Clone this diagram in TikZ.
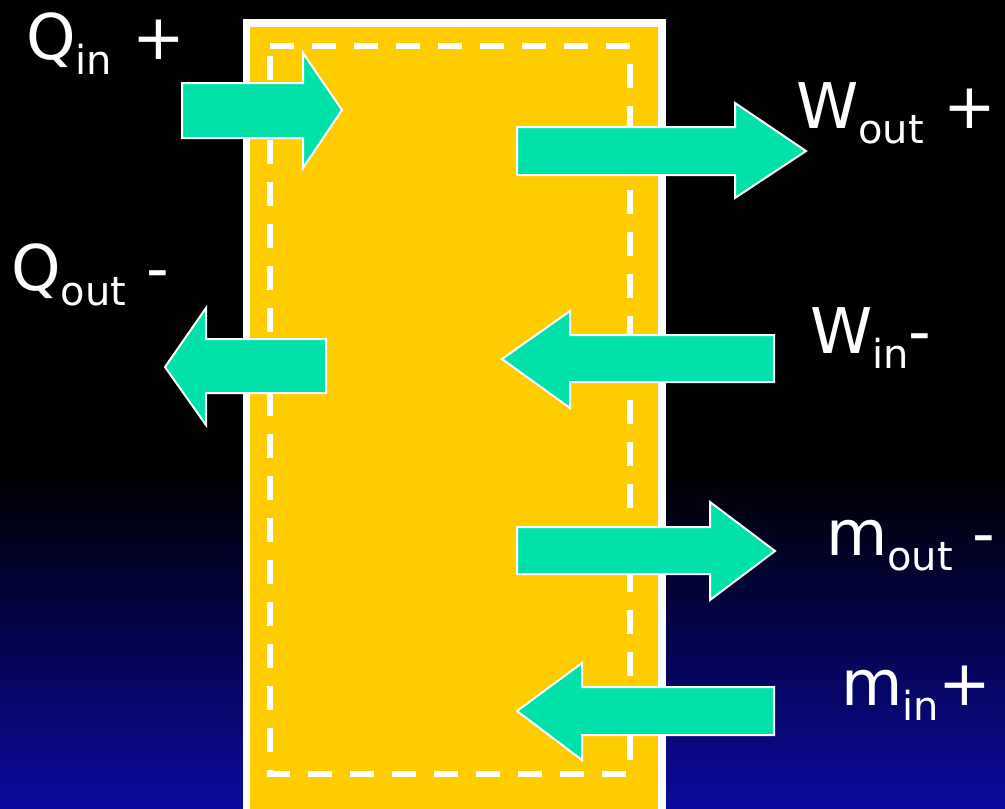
\documentclass[tikz,border=0pt]{standalone}
\usepackage{fontspec}
\setmainfont{DejaVu Sans}
\definecolor{boxyellow}{RGB}{255,204,0}
\definecolor{arrowgreen}{RGB}{0,226,170}
\definecolor{deepblue}{RGB}{10,10,158}
\newcommand{\flowlbl}[3]{\fontsize{63}{63}\selectfont #1\raisebox{-15pt}{\fontsize{40}{40}\selectfont #2}#3}
\tikzset{
  flowarrow/.style={fill=arrowgreen, draw=white, line width=2pt, line join=miter},
  flowtext/.style={text=white, anchor=base west, inner sep=0pt, outer sep=0pt},
}
\begin{document}
\begin{tikzpicture}[x=1pt,y=-1pt]
\useasboundingbox (0,0) rectangle (1005,809);
% background
\fill[black] (0,0) rectangle (1005,470);
\shade[top color=black, bottom color=deepblue] (0,469) rectangle (1005,809);
% control volume
\draw[white, line width=7.5pt, fill=boxyellow] (246.5,23) rectangle (662,820);
\draw[white, line width=6pt, dash pattern=on 24pt off 18pt] (270,46) -- (630,46) -- (630,774) -- (270,774) -- cycle;
% arrows
% Q_in (right)
\draw[flowarrow] (182,83) -- (303,83) -- (303,53) -- (342,110) -- (303,168) -- (303,138) -- (182,138) -- cycle;
% W_out (right)
\draw[flowarrow] (517,127) -- (735,127) -- (735,103) -- (806,151) -- (735,198) -- (735,175) -- (517,175) -- cycle;
% Q_out (left)
\draw[flowarrow] (326,339) -- (206,339) -- (206,308) -- (165,367) -- (206,425) -- (206,393) -- (326,393) -- cycle;
% W_in (left)
\draw[flowarrow] (774,335) -- (570,335) -- (570,311) -- (502,359) -- (570,408) -- (570,382) -- (774,382) -- cycle;
% m_out (right)
\draw[flowarrow] (517,527) -- (710,527) -- (710,502) -- (775,551) -- (710,600) -- (710,574) -- (517,574) -- cycle;
% m_in (left)
\draw[flowarrow] (774,687) -- (582,687) -- (582,663) -- (517,711) -- (582,760) -- (582,735) -- (774,735) -- cycle;
% labels
\node[flowtext] (qin) at (26,59) {\flowlbl{Q}{in}{ +}};
\node[flowtext] (wout) at (796,128) {\flowlbl{W}{out}{ +}};
\node[flowtext] (qout) at (11,290) {\flowlbl{Q}{out}{ -}};
\node[flowtext] (win) at (810,353) {\flowlbl{W}{in}{-}};
\node[flowtext] (mout) at (826,555) {\flowlbl{m}{out}{ -}};
\node[flowtext] (min) at (841,705) {\flowlbl{m}{in}{+}};
\end{tikzpicture}
\end{document}
